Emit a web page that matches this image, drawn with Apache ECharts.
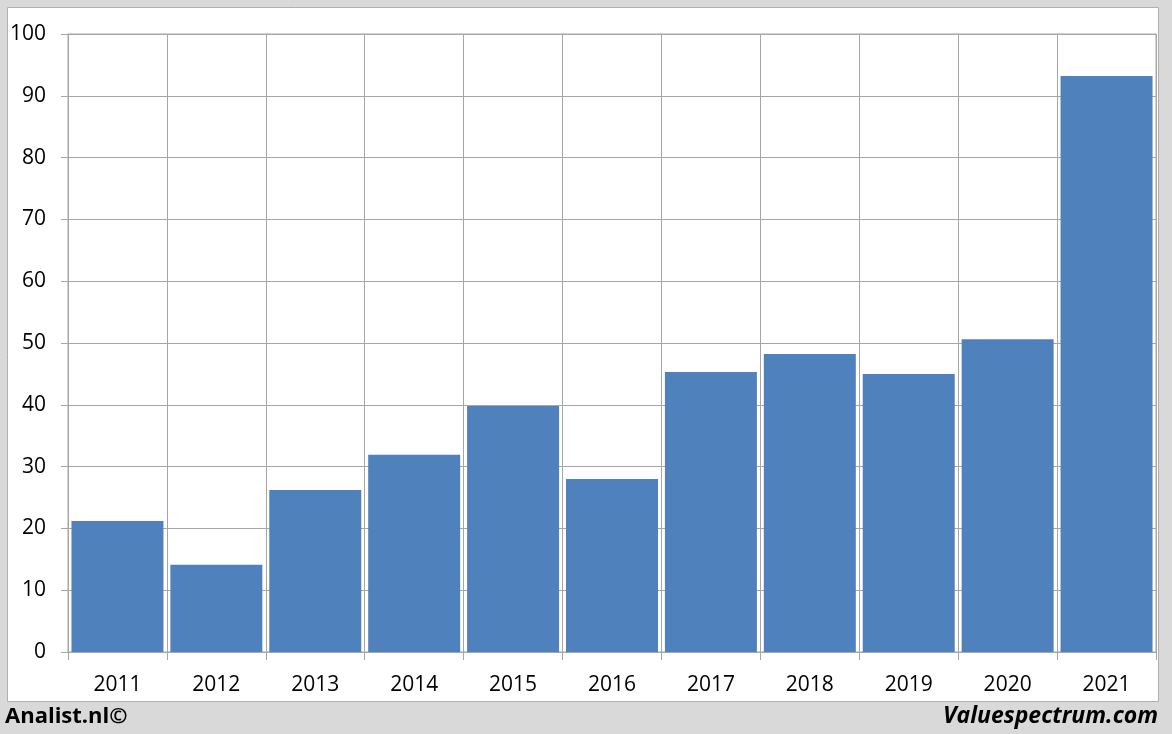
<!DOCTYPE html>
<html><head><meta charset="utf-8">
<script src="https://cdn.jsdelivr.net/npm/echarts@6/dist/echarts.min.js"></script>
<style>html,body{margin:0;padding:0;background:#d9d9d9}#c{width:1172px;height:734px}</style>
</head><body><div id="c"></div>
<script>
const years = ['2011','2012','2013','2014','2015','2016','2017','2018','2019','2020','2021'];
const values = [21.2, 14.1, 26.2, 31.9, 39.8, 28.0, 45.3, 48.2, 45.0, 50.6, 93.2];
const yTicks = {min: 0, max: 100, interval: 10};
const footerLeft = 'Analist.nl©';
const footerRight = 'Valuespectrum.com';

const chart = echarts.init(document.getElementById('c'));
const gridCol = '#a6a6a6';
chart.setOption({
  backgroundColor: '#d9d9d9',
  animation: false,
  graphic: [
    {type:'rect', shape:{x:7.5,y:7.5,width:1151,height:694}, style:{fill:'#ffffff', stroke:'#b0b0b0', lineWidth:1}, z:-10},
    {type:'text', left:5, top:706, style:{text:footerLeft, font:'bold 22px "Open Sans", sans-serif', fill:'#000'}},
    {type:'text', right:14, top:705, style:{text:footerRight, font:'italic bold 23px "Open Sans", sans-serif', fill:'#000'}}
  ],
  grid: {left:68, right:16, top:34, bottom:82, show:true, borderColor:gridCol, borderWidth:1, backgroundColor:'transparent'},
  xAxis: {
    type:'category', data: years,
    axisLine:{show:true, lineStyle:{color:gridCol}},
    axisTick:{show:true, length:8, lineStyle:{color:gridCol}},
    splitLine:{show:true, lineStyle:{color:gridCol}},
    axisLabel:{color:'#000', fontSize:21, fontFamily:'"Open Sans", sans-serif', margin:23}
  },
  yAxis: {
    type:'value', min:yTicks.min, max:yTicks.max, interval:yTicks.interval,
    axisLine:{show:true, lineStyle:{color:gridCol}},
    axisTick:{show:true, length:7, lineStyle:{color:gridCol}},
    splitLine:{show:true, lineStyle:{color:gridCol}},
    axisLabel:{color:'#000', fontSize:21, fontFamily:'"Open Sans", sans-serif', margin:22}
  },
  series: [{
    type:'bar', data: values, barCategoryGap:'7%',
    itemStyle:{color:'#4f81bd'}
  }]
});
</script></body></html>
